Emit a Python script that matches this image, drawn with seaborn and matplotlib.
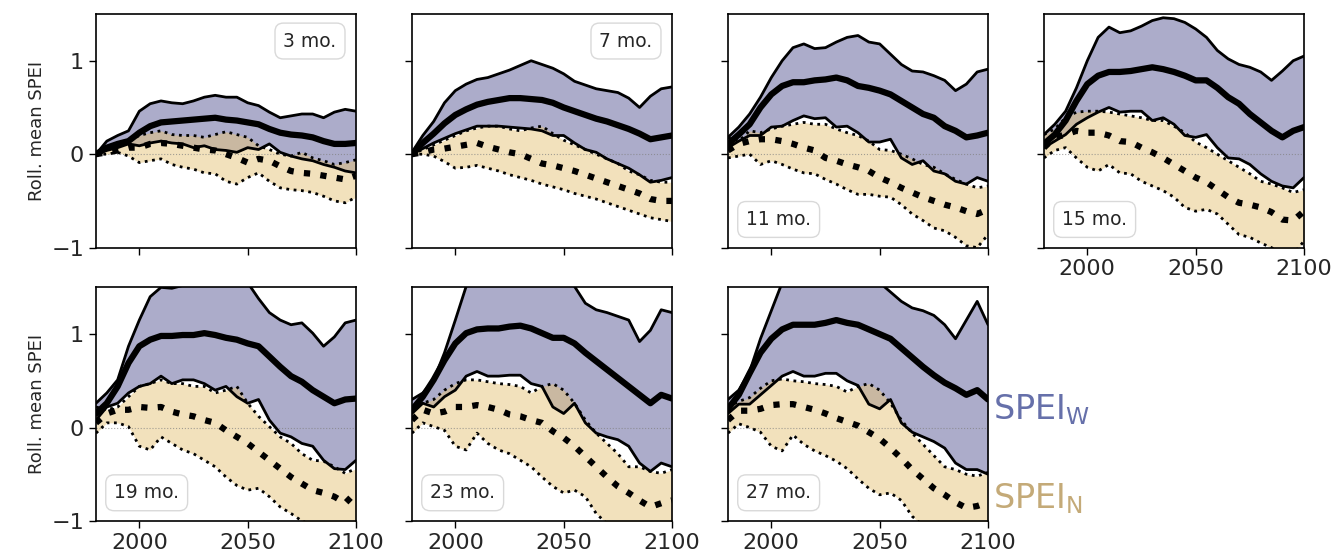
import numpy as np
import pandas as pd
import seaborn as sns
import matplotlib.pyplot as plt

years = [1980, 1985, 1990, 1995, 2000, 2005, 2010, 2015, 2020, 2025, 2030, 2035, 2040,
         2045, 2050, 2055, 2060, 2065, 2070, 2075, 2080, 2085, 2090, 2095, 2100]

labels = ["3 mo.", "7 mo.", "11 mo.", "15 mo.", "19 mo.", "23 mo.", "27 mo."]

# SPEI_W: upper / mean / lower, SPEI_N: upper / mean / lower
w_hi_3 = [0.00, 0.14, 0.20, 0.25, 0.46, 0.54, 0.57, 0.55, 0.54, 0.57, 0.61, 0.63, 0.61, 0.61, 0.55, 0.52, 0.45, 0.39, 0.41, 0.43, 0.43, 0.39, 0.45, 0.48, 0.46]
w_mid_3 = [0.00, 0.07, 0.11, 0.14, 0.23, 0.30, 0.34, 0.35, 0.36, 0.37, 0.38, 0.39, 0.37, 0.36, 0.34, 0.32, 0.27, 0.23, 0.21, 0.20, 0.18, 0.14, 0.11, 0.11, 0.12]
w_lo_3 = [0.00, 0.04, 0.07, 0.11, 0.09, 0.12, 0.14, 0.12, 0.11, 0.07, 0.09, 0.05, 0.04, 0.02, 0.07, 0.05, 0.11, 0.02, -0.02, -0.05, -0.07, -0.11, -0.14, -0.18, -0.20]
n_hi_3 = [0.00, 0.07, 0.11, 0.14, 0.20, 0.23, 0.25, 0.21, 0.20, 0.20, 0.18, 0.21, 0.24, 0.21, 0.18, 0.09, 0.05, 0.00, -0.02, 0.02, -0.04, -0.07, -0.11, -0.09, -0.06]
n_mid_3 = [0.00, 0.02, 0.04, 0.07, 0.07, 0.11, 0.12, 0.11, 0.09, 0.07, 0.05, 0.04, 0.00, -0.04, -0.09, -0.05, -0.07, -0.13, -0.18, -0.20, -0.21, -0.23, -0.25, -0.27, -0.23]
n_lo_3 = [0.00, 0.00, 0.02, -0.02, -0.09, -0.07, -0.05, -0.11, -0.14, -0.16, -0.20, -0.21, -0.29, -0.32, -0.25, -0.20, -0.29, -0.36, -0.38, -0.39, -0.41, -0.45, -0.50, -0.52, -0.46]

w_hi_7 = [0.02, 0.20, 0.35, 0.55, 0.68, 0.75, 0.80, 0.82, 0.86, 0.90, 0.95, 1.00, 0.96, 0.92, 0.86, 0.78, 0.74, 0.70, 0.68, 0.66, 0.60, 0.50, 0.62, 0.70, 0.72]
w_mid_7 = [0.00, 0.12, 0.22, 0.33, 0.42, 0.48, 0.53, 0.56, 0.58, 0.60, 0.60, 0.59, 0.58, 0.55, 0.50, 0.46, 0.42, 0.38, 0.35, 0.31, 0.27, 0.22, 0.16, 0.18, 0.20]
w_lo_7 = [0.00, 0.06, 0.12, 0.17, 0.22, 0.26, 0.30, 0.30, 0.30, 0.29, 0.28, 0.27, 0.25, 0.20, 0.20, 0.12, 0.05, 0.02, -0.05, -0.10, -0.15, -0.22, -0.30, -0.28, -0.25]
n_hi_7 = [0.00, 0.05, 0.10, 0.15, 0.20, 0.25, 0.28, 0.30, 0.30, 0.27, 0.25, 0.28, 0.30, 0.22, 0.15, 0.10, 0.05, 0.00, -0.05, -0.10, -0.18, -0.22, -0.28, -0.30, -0.30]
n_mid_7 = [0.00, 0.02, 0.05, 0.06, 0.08, 0.10, 0.12, 0.08, 0.05, 0.02, 0.00, -0.05, -0.10, -0.12, -0.15, -0.18, -0.22, -0.26, -0.30, -0.34, -0.38, -0.42, -0.48, -0.50, -0.50]
n_lo_7 = [0.00, 0.00, -0.02, -0.08, -0.15, -0.14, -0.12, -0.15, -0.18, -0.22, -0.25, -0.28, -0.32, -0.35, -0.38, -0.42, -0.45, -0.48, -0.52, -0.56, -0.60, -0.64, -0.68, -0.70, -0.72]

w_hi_11 = [0.18, 0.29, 0.43, 0.61, 0.82, 1.00, 1.14, 1.18, 1.13, 1.14, 1.20, 1.25, 1.27, 1.20, 1.18, 1.07, 0.96, 0.89, 0.88, 0.84, 0.79, 0.68, 0.75, 0.88, 0.91]
w_mid_11 = [0.11, 0.21, 0.32, 0.50, 0.64, 0.73, 0.77, 0.77, 0.79, 0.80, 0.82, 0.79, 0.73, 0.71, 0.68, 0.64, 0.57, 0.50, 0.43, 0.39, 0.30, 0.25, 0.18, 0.20, 0.23]
w_lo_11 = [0.07, 0.14, 0.20, 0.20, 0.29, 0.30, 0.36, 0.41, 0.38, 0.39, 0.29, 0.30, 0.23, 0.13, 0.13, 0.16, -0.04, -0.11, -0.07, -0.18, -0.21, -0.29, -0.32, -0.25, -0.29]
n_hi_11 = [0.18, 0.14, 0.25, 0.23, 0.27, 0.30, 0.32, 0.34, 0.32, 0.32, 0.27, 0.23, 0.20, 0.14, 0.05, 0.04, 0.00, -0.05, -0.11, -0.14, -0.21, -0.27, -0.32, -0.36, -0.34]
n_mid_11 = [0.04, 0.11, 0.14, 0.16, 0.16, 0.14, 0.11, 0.07, 0.04, -0.04, -0.07, -0.11, -0.14, -0.18, -0.25, -0.30, -0.36, -0.41, -0.46, -0.50, -0.54, -0.57, -0.61, -0.64, -0.59]
n_lo_11 = [-0.04, -0.02, 0.00, -0.11, -0.07, -0.11, -0.16, -0.20, -0.21, -0.27, -0.32, -0.38, -0.43, -0.43, -0.45, -0.46, -0.54, -0.64, -0.71, -0.79, -0.82, -0.89, -0.98, -1.00, -0.86]

w_hi_15 = [0.21, 0.32, 0.46, 0.71, 1.00, 1.25, 1.36, 1.30, 1.32, 1.37, 1.43, 1.46, 1.45, 1.41, 1.34, 1.25, 1.11, 1.02, 0.96, 0.93, 0.88, 0.79, 0.89, 1.00, 1.05]
w_mid_15 = [0.11, 0.21, 0.36, 0.57, 0.75, 0.84, 0.88, 0.88, 0.89, 0.91, 0.93, 0.91, 0.88, 0.84, 0.79, 0.79, 0.71, 0.61, 0.54, 0.43, 0.34, 0.25, 0.18, 0.25, 0.29]
w_lo_15 = [0.07, 0.14, 0.21, 0.32, 0.39, 0.45, 0.50, 0.45, 0.46, 0.46, 0.36, 0.39, 0.32, 0.20, 0.18, 0.21, 0.07, -0.04, -0.05, -0.11, -0.21, -0.29, -0.34, -0.36, -0.25]
n_hi_15 = [0.21, 0.27, 0.39, 0.45, 0.46, 0.46, 0.45, 0.43, 0.41, 0.39, 0.36, 0.36, 0.30, 0.23, 0.13, 0.07, 0.00, -0.07, -0.14, -0.21, -0.29, -0.32, -0.36, -0.41, -0.38]
n_mid_15 = [0.07, 0.18, 0.21, 0.25, 0.23, 0.23, 0.20, 0.14, 0.13, 0.07, 0.02, -0.04, -0.11, -0.18, -0.25, -0.30, -0.38, -0.46, -0.52, -0.54, -0.57, -0.62, -0.70, -0.71, -0.61]
n_lo_15 = [-0.04, 0.04, 0.07, -0.04, -0.14, -0.18, -0.11, -0.20, -0.21, -0.29, -0.34, -0.39, -0.46, -0.57, -0.61, -0.59, -0.64, -0.75, -0.86, -0.89, -0.95, -1.00, -1.07, -1.07, -0.93]

w_hi_19 = [0.26, 0.37, 0.51, 0.87, 1.15, 1.40, 1.50, 1.49, 1.52, 1.60, 1.65, 1.65, 1.62, 1.60, 1.55, 1.38, 1.23, 1.15, 1.10, 1.12, 1.01, 0.87, 0.97, 1.12, 1.15]
w_mid_19 = [0.15, 0.26, 0.44, 0.69, 0.87, 0.94, 0.98, 0.98, 0.99, 0.99, 1.01, 0.99, 0.96, 0.94, 0.90, 0.87, 0.76, 0.65, 0.55, 0.49, 0.40, 0.33, 0.26, 0.30, 0.31]
w_lo_19 = [0.08, 0.22, 0.26, 0.37, 0.44, 0.47, 0.55, 0.47, 0.51, 0.51, 0.47, 0.40, 0.44, 0.33, 0.26, 0.30, 0.08, -0.06, -0.10, -0.17, -0.20, -0.35, -0.44, -0.45, -0.35]
n_hi_19 = [0.22, 0.19, 0.22, 0.33, 0.44, 0.47, 0.51, 0.47, 0.47, 0.44, 0.44, 0.37, 0.40, 0.44, 0.26, 0.12, 0.01, -0.10, -0.17, -0.28, -0.35, -0.36, -0.42, -0.49, -0.44]
n_mid_19 = [0.05, 0.15, 0.19, 0.19, 0.22, 0.21, 0.22, 0.17, 0.14, 0.12, 0.08, 0.05, -0.03, -0.10, -0.17, -0.26, -0.35, -0.44, -0.53, -0.60, -0.67, -0.70, -0.74, -0.81, -0.69]
n_lo_19 = [-0.06, 0.05, 0.05, 0.01, -0.20, -0.24, -0.10, -0.17, -0.24, -0.28, -0.35, -0.42, -0.53, -0.62, -0.67, -0.65, -0.74, -0.85, -0.92, -1.00, -1.05, -1.05, -1.10, -1.10, -1.06]

w_hi_23 = [0.30, 0.37, 0.51, 0.80, 1.15, 1.51, 1.65, 1.70, 1.72, 1.72, 1.72, 1.70, 1.70, 1.68, 1.60, 1.51, 1.33, 1.26, 1.23, 1.19, 1.15, 0.92, 1.04, 1.26, 1.23]
w_mid_23 = [0.19, 0.33, 0.51, 0.72, 0.90, 1.01, 1.05, 1.06, 1.06, 1.08, 1.09, 1.06, 1.01, 0.96, 0.96, 0.90, 0.80, 0.71, 0.62, 0.53, 0.44, 0.35, 0.26, 0.35, 0.31]
w_lo_23 = [0.15, 0.26, 0.22, 0.33, 0.40, 0.55, 0.60, 0.55, 0.55, 0.56, 0.56, 0.47, 0.44, 0.22, 0.15, 0.26, 0.05, -0.06, -0.10, -0.13, -0.20, -0.38, -0.47, -0.38, -0.42]
n_hi_23 = [0.22, 0.26, 0.30, 0.40, 0.47, 0.51, 0.51, 0.49, 0.47, 0.46, 0.44, 0.37, 0.44, 0.47, 0.40, 0.26, 0.08, -0.06, -0.17, -0.28, -0.42, -0.42, -0.47, -0.49, -0.45]
n_mid_23 = [0.08, 0.19, 0.15, 0.17, 0.22, 0.22, 0.24, 0.22, 0.19, 0.14, 0.12, 0.08, 0.05, -0.04, -0.11, -0.20, -0.31, -0.42, -0.53, -0.63, -0.70, -0.78, -0.85, -0.81, -0.78]
n_lo_23 = [-0.06, 0.05, 0.01, -0.03, -0.20, -0.24, -0.06, -0.17, -0.24, -0.28, -0.35, -0.42, -0.53, -0.63, -0.70, -0.67, -0.74, -0.92, -1.03, -1.10, -1.15, -1.15, -1.15, -1.15, -1.15]

w_hi_27 = [0.30, 0.40, 0.60, 0.95, 1.25, 1.55, 1.70, 1.75, 1.75, 1.75, 1.75, 1.72, 1.70, 1.65, 1.55, 1.45, 1.35, 1.28, 1.25, 1.20, 1.10, 0.95, 1.15, 1.35, 1.10]
w_mid_27 = [0.20, 0.35, 0.58, 0.80, 0.95, 1.05, 1.10, 1.10, 1.10, 1.12, 1.15, 1.12, 1.10, 1.05, 1.00, 0.95, 0.85, 0.75, 0.65, 0.56, 0.48, 0.42, 0.35, 0.40, 0.30]
w_lo_27 = [0.15, 0.25, 0.25, 0.35, 0.45, 0.55, 0.60, 0.55, 0.55, 0.58, 0.58, 0.50, 0.45, 0.25, 0.20, 0.30, 0.05, -0.05, -0.10, -0.15, -0.22, -0.38, -0.45, -0.45, -0.50]
n_hi_27 = [0.22, 0.28, 0.32, 0.42, 0.50, 0.52, 0.50, 0.49, 0.47, 0.46, 0.44, 0.38, 0.44, 0.47, 0.40, 0.26, 0.08, -0.06, -0.18, -0.30, -0.42, -0.45, -0.50, -0.52, -0.48]
n_mid_27 = [0.08, 0.18, 0.18, 0.20, 0.24, 0.25, 0.25, 0.22, 0.19, 0.15, 0.10, 0.06, 0.02, -0.05, -0.12, -0.22, -0.33, -0.45, -0.55, -0.65, -0.72, -0.80, -0.86, -0.84, -0.80]
n_lo_27 = [-0.06, 0.04, 0.00, -0.05, -0.20, -0.25, -0.08, -0.18, -0.25, -0.30, -0.36, -0.44, -0.55, -0.65, -0.72, -0.70, -0.78, -0.95, -1.05, -1.10, -1.15, -1.15, -1.15, -1.15, -1.15]

panels = [
    (w_hi_3, w_mid_3, w_lo_3, n_hi_3, n_mid_3, n_lo_3),
    (w_hi_7, w_mid_7, w_lo_7, n_hi_7, n_mid_7, n_lo_7),
    (w_hi_11, w_mid_11, w_lo_11, n_hi_11, n_mid_11, n_lo_11),
    (w_hi_15, w_mid_15, w_lo_15, n_hi_15, n_mid_15, n_lo_15),
    (w_hi_19, w_mid_19, w_lo_19, n_hi_19, n_mid_19, n_lo_19),
    (w_hi_23, w_mid_23, w_lo_23, n_hi_23, n_mid_23, n_lo_23),
    (w_hi_27, w_mid_27, w_lo_27, n_hi_27, n_mid_27, n_lo_27),
]

W_COL = "#5b5b96"
N_COL = "#e6c57a"

sns.set_style("ticks")
plt.rcParams["font.family"] = ["DejaVu Sans"]

fig, axes = plt.subplots(2, 4, figsize=(13.35, 5.54), dpi=100)
fig.subplots_adjust(left=0.0719, right=0.9768, top=0.9747, bottom=0.0596,
                    wspace=0.215, hspace=0.17)
axes = axes.ravel()
axes[7].axis("off")

for i, (ax, lab, pan) in enumerate(zip(axes[:7], labels, panels)):
    w_hi, w_mid, w_lo, n_hi, n_mid, n_lo = pan
    ax.fill_between(years, w_lo, w_hi, color=W_COL, alpha=0.5, lw=0)
    ax.fill_between(years, n_lo, n_hi, color=N_COL, alpha=0.5, lw=0)
    ax.axhline(0, color="gray", lw=0.8, ls=":", alpha=0.7)
    sns.lineplot(x=years, y=w_hi, ax=ax, color="k", lw=2)
    sns.lineplot(x=years, y=w_lo, ax=ax, color="k", lw=2)
    sns.lineplot(x=years, y=w_mid, ax=ax, color="k", lw=4.5)
    sns.lineplot(x=years, y=n_hi, ax=ax, color="k", lw=2, ls=":")
    sns.lineplot(x=years, y=n_lo, ax=ax, color="k", lw=2, ls=":")
    sns.lineplot(x=years, y=n_mid, ax=ax, color="k", lw=4.5, ls=":")

    ax.set_xlim(1980, 2100)
    ax.set_ylim(-1, 1.5)
    ax.set_xticks([2000, 2050, 2100])
    ax.set_yticks([-1, 0, 1])
    ax.tick_params(labelsize=16, length=5, width=1, color="k")
    for s in ax.spines.values():
        s.set_color("k")
        s.set_linewidth(1.2)

    if i % 4 == 0:
        ax.set_ylabel("Roll. mean SPEI", fontsize=13)
    else:
        ax.set_yticklabels([])
    if i < 3:
        ax.set_xticklabels([])

    box = dict(boxstyle="round,pad=0.45", fc="white", ec="0.85", lw=1)
    if i < 2:
        ax.text(0.925, 0.925, lab, transform=ax.transAxes, ha="right", va="top",
                fontsize=13.5, bbox=box)
    else:
        ax.text(0.07, 0.08, lab, transform=ax.transAxes, ha="left", va="bottom",
                fontsize=13.5, bbox=box)

fig.text(0.744, 0.26, r"SPEI$_\mathregular{W}$", fontsize=24, color="#6670aa",
         va="center", ha="left")
fig.text(0.744, 0.10, r"SPEI$_\mathregular{N}$", fontsize=24, color="#c4aa78",
         va="center", ha="left")

plt.savefig("out.png", dpi=100)
